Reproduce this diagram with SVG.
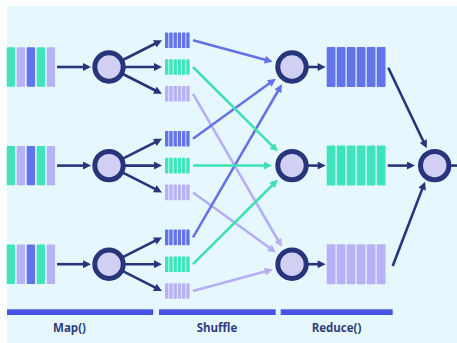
<svg xmlns="http://www.w3.org/2000/svg" width="457" height="343" viewBox="0 0 457 343">
<style>
.nv{stroke:#27367a;stroke-width:2.6;fill:none}
.bl{stroke:#6472e6;stroke-width:2.5;fill:none}
.gr{stroke:#3fe0b6;stroke-width:2.5;fill:none}
.lv{stroke:#b5aef4;stroke-width:2.5;fill:none}
.node{fill:#d2cff5;stroke:#27367a;stroke-width:5}
.cg{fill:#40e4bc}
.cl{fill:#b8b1f5}
.cb{fill:#6374e8}
.bar{fill:#4755e2}
.lab{font-family:"Open Sans","Liberation Sans",sans-serif;font-weight:700;font-size:11.5px;fill:#2e3c7e;text-anchor:middle}
</style>
<defs>
<marker id="mn" viewBox="0 0 10 10" refX="5" refY="5" markerWidth="9" markerHeight="8" markerUnits="userSpaceOnUse" orient="auto"><path d="M0,0 L10,5 L0,10 z" fill="#27367a"/></marker>
<marker id="mb" viewBox="0 0 10 10" refX="5" refY="5" markerWidth="9" markerHeight="8" markerUnits="userSpaceOnUse" orient="auto"><path d="M0,0 L10,5 L0,10 z" fill="#6472e6"/></marker>
<marker id="mg" viewBox="0 0 10 10" refX="5" refY="5" markerWidth="9" markerHeight="8" markerUnits="userSpaceOnUse" orient="auto"><path d="M0,0 L10,5 L0,10 z" fill="#3fe0b6"/></marker>
<marker id="ml" viewBox="0 0 10 10" refX="5" refY="5" markerWidth="9" markerHeight="8" markerUnits="userSpaceOnUse" orient="auto"><path d="M0,0 L10,5 L0,10 z" fill="#b5aef4"/></marker>
<g id="inq">
<rect class="cg" x="6.7" y="0" width="8.4" height="39.4" rx="1"/>
<rect class="cl" x="16.7" y="0" width="8.4" height="39.4" rx="1"/>
<rect class="cb" x="26.7" y="0" width="8.4" height="39.4" rx="1"/>
<rect class="cg" x="36.7" y="0" width="8.4" height="39.4" rx="1"/>
<rect class="cl" x="46.7" y="0" width="8.4" height="39.4" rx="1"/>
</g>
<g id="sq">
<rect x="0" y="0" width="3.4" height="15.6" rx="0.6"/>
<rect x="4.25" y="0" width="3.4" height="15.6" rx="0.6"/>
<rect x="8.5" y="0" width="3.4" height="15.6" rx="0.6"/>
<rect x="12.75" y="0" width="3.4" height="15.6" rx="0.6"/>
<rect x="17" y="0" width="3.4" height="15.6" rx="0.6"/>
<rect x="21.25" y="0" width="3.4" height="15.6" rx="0.6"/>
</g>
<g id="rq">
<rect x="0" y="0" width="8.8" height="40" rx="1"/>
<rect x="10" y="0" width="8.8" height="40" rx="1"/>
<rect x="20" y="0" width="8.8" height="40" rx="1"/>
<rect x="30" y="0" width="8.8" height="40" rx="1"/>
<rect x="40" y="0" width="8.8" height="40" rx="1"/>
<rect x="50" y="0" width="8.8" height="40" rx="1"/>
</g>
</defs>
<rect x="7" y="6" width="450" height="337" fill="#e6f7fe"/>

<g id="connectors">
<line class="nv" x1="57" y1="67" x2="87" y2="67" marker-end="url(#mn)"/>
<line class="nv" x1="57" y1="165.6" x2="87" y2="165.6" marker-end="url(#mn)"/>
<line class="nv" x1="57" y1="264.2" x2="87" y2="264.2" marker-end="url(#mn)"/>
<line class="nv" x1="109" y1="67" x2="158.4" y2="42" marker-end="url(#mn)"/>
<line class="nv" x1="109" y1="67" x2="158" y2="67" marker-end="url(#mn)"/>
<line class="nv" x1="109" y1="67" x2="158.4" y2="92" marker-end="url(#mn)"/>
<line class="nv" x1="109" y1="165.6" x2="158.4" y2="140.6" marker-end="url(#mn)"/>
<line class="nv" x1="109" y1="165.6" x2="158" y2="165.6" marker-end="url(#mn)"/>
<line class="nv" x1="109" y1="165.6" x2="158.4" y2="190.6" marker-end="url(#mn)"/>
<line class="nv" x1="109" y1="264.2" x2="158.4" y2="239.2" marker-end="url(#mn)"/>
<line class="nv" x1="109" y1="264.2" x2="158" y2="264.2" marker-end="url(#mn)"/>
<line class="nv" x1="109" y1="264.2" x2="158.4" y2="289.2" marker-end="url(#mn)"/>
<line class="lv" x1="193" y1="93.8" x2="279.9" y2="243.5" marker-end="url(#ml)"/>
<line class="lv" x1="193" y1="192.4" x2="272.6" y2="250.1" marker-end="url(#ml)"/>
<line class="lv" x1="193" y1="291" x2="268.8" y2="270.5" marker-end="url(#ml)"/>
<line class="bl" x1="193" y1="40.2" x2="268.8" y2="60.7" marker-end="url(#mb)"/>
<line class="bl" x1="193" y1="138.8" x2="272.6" y2="81.1" marker-end="url(#mb)"/>
<line class="bl" x1="193" y1="237.4" x2="279.9" y2="87.75" marker-end="url(#mb)"/>
<line class="gr" x1="193" y1="67" x2="275" y2="148.7" marker-end="url(#mg)"/>
<line class="gr" x1="193" y1="165.6" x2="268" y2="165.6" marker-end="url(#mg)"/>
<line class="gr" x1="193" y1="264.2" x2="275" y2="182.5" marker-end="url(#mg)"/>
<line class="nv" x1="300" y1="67" x2="321.7" y2="67" marker-end="url(#mn)"/>
<line class="nv" x1="300" y1="165.6" x2="321.7" y2="165.6" marker-end="url(#mn)"/>
<line class="nv" x1="300" y1="264.2" x2="321.7" y2="264.2" marker-end="url(#mn)"/>
<line class="nv" x1="388.3" y1="67.7" x2="425" y2="144.7" marker-end="url(#mn)"/>
<line class="nv" x1="387.7" y1="165.6" x2="411" y2="165.6" marker-end="url(#mn)"/>
<line class="nv" x1="392.7" y1="266" x2="423.6" y2="185.4" marker-end="url(#mn)"/>
<line class="nv" x1="440" y1="165.6" x2="460" y2="165.6"/>
</g>

<g id="input1"><use href="#inq" y="47.3"/></g>
<g id="input2"><use href="#inq" y="145.9"/></g>
<g id="input3"><use href="#inq" y="244.5"/></g>

<g id="map1"><circle class="node" cx="109" cy="67" r="14.2"/></g>
<g id="map2"><circle class="node" cx="109" cy="165.6" r="14.2"/></g>
<g id="map3"><circle class="node" cx="109" cy="264.2" r="14.2"/></g>

<g id="shuffle1">
<use href="#sq" x="165" y="32.4" class="cb"/>
<use href="#sq" x="165" y="59.2" class="cg"/>
<use href="#sq" x="165" y="86" class="cl"/>
</g>
<g id="shuffle2">
<use href="#sq" x="165" y="131" class="cb"/>
<use href="#sq" x="165" y="157.8" class="cg"/>
<use href="#sq" x="165" y="184.6" class="cl"/>
</g>
<g id="shuffle3">
<use href="#sq" x="165" y="229.6" class="cb"/>
<use href="#sq" x="165" y="256.4" class="cg"/>
<use href="#sq" x="165" y="283.2" class="cl"/>
</g>

<g id="reduce1"><circle class="node" cx="292" cy="67" r="14.2"/></g>
<g id="reduce2"><circle class="node" cx="292" cy="165.6" r="14.2"/></g>
<g id="reduce3"><circle class="node" cx="292" cy="264.2" r="14.2"/></g>

<g id="rqueue1"><use href="#rq" x="326.7" y="47" class="cb"/></g>
<g id="rqueue2"><use href="#rq" x="326.7" y="145.6" class="cg"/></g>
<g id="rqueue3"><use href="#rq" x="326.7" y="244.2" class="cl"/></g>

<g id="final"><circle class="node" cx="434.7" cy="165.6" r="14.2"/></g>

<g id="phases">
<rect class="bar" x="7" y="309.3" width="146.3" height="5.7"/>
<rect class="bar" x="159" y="309.3" width="116.7" height="5.7"/>
<rect class="bar" x="280.7" y="309.3" width="112" height="5.7"/>
<text class="lab" x="69.5" y="331.5">Map()</text>
<text class="lab" x="217" y="331.5">Shuffle</text>
<text class="lab" x="336.5" y="331.5">Reduce()</text>
</g>
</svg>
